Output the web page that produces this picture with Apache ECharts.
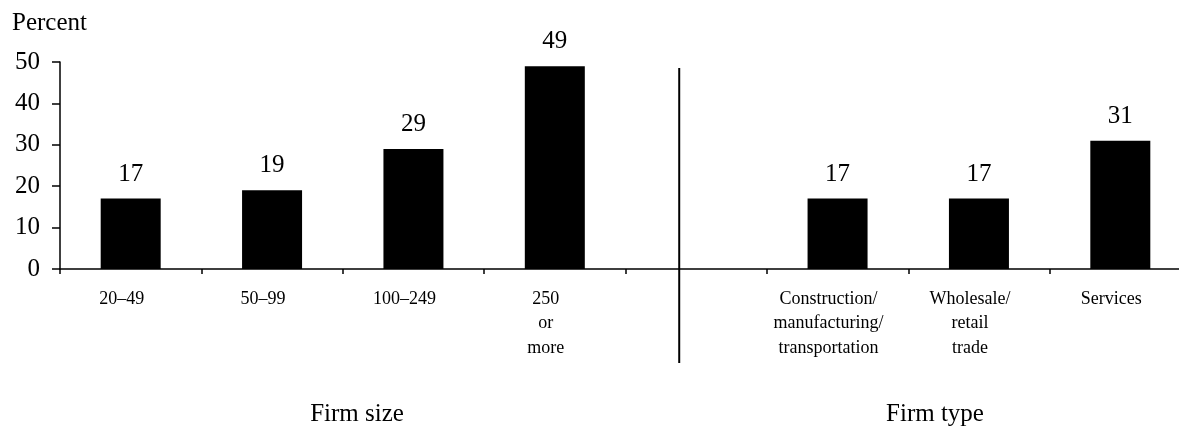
<!DOCTYPE html>
<html><head><meta charset="utf-8">
<script src="https://cdn.jsdelivr.net/npm/echarts@6/dist/echarts.min.js"></script>
<style>html,body{margin:0;padding:0;background:#fff}#c{width:1179px;height:429px}</style>
</head><body><div id="c"></div>
<script>
const categories = ['20–49', '50–99', '100–249', '250\nor\nmore', '',
  'Construction/\nmanufacturing/\ntransportation', 'Wholesale/\nretail\ntrade', 'Services'];
const values = [17, 19, 29, 49, null, 17, 17, 31];
const yTicks = [0, 10, 20, 30, 40, 50];
const yTitle = 'Percent';
const groupTitles = ['Firm size', 'Firm type'];
const dividerAt = 4.38; // divider position along the category span (0..8)

const FONT = '"Liberation Serif", "Times New Roman", serif';
const chart = echarts.init(document.getElementById('c'), null, {renderer: 'canvas'});
chart.setOption({
  backgroundColor: '#fff',
  animation: false,
  textStyle: {fontFamily: FONT, color: '#000'},
  grid: [
    {left: 60, top: 62, width: 1131, height: 207, containLabel: false, outerBoundsMode: 'none'},
    {left: 60, top: 68, width: 1131, height: 295, containLabel: false, outerBoundsMode: 'none'}
  ],
  xAxis: [
    {
      type: 'category', gridIndex: 0, data: categories, boundaryGap: true,
      axisLine: {lineStyle: {color: '#000', width: 1.5}},
      axisTick: {show: true, length: 5, inside: false, lineStyle: {color: '#000', width: 1.5}},
      axisLabel: {interval: 0, color: '#000', fontFamily: FONT, fontSize: 18, lineHeight: 24.5,
        margin: 18, padding: [0, 18, 0, 0], hideOverlap: false},
      splitLine: {show: false}
    },
    {type: 'value', gridIndex: 1, min: 0, max: categories.length, show: false}
  ],
  yAxis: [
    {
      type: 'value', gridIndex: 0, min: yTicks[0], max: yTicks[yTicks.length - 1], interval: 10,
      axisLine: {show: true, lineStyle: {color: '#000', width: 1.5}},
      axisTick: {show: true, length: 8, lineStyle: {color: '#000', width: 1.5}},
      axisLabel: {color: '#000', fontFamily: FONT, fontSize: 25, margin: 20},
      splitLine: {show: false}
    },
    {type: 'value', gridIndex: 1, min: 0, max: 1, show: false}
  ],
  series: [
    {
      type: 'bar', xAxisIndex: 0, yAxisIndex: 0, data: values, barWidth: 60,
      itemStyle: {color: '#000'},
      label: {show: true, position: 'top', distance: 12, color: '#000',
        fontFamily: FONT, fontSize: 25, formatter: '{c}'}
    },
    {
      type: 'line', xAxisIndex: 1, yAxisIndex: 1, data: [[dividerAt, 0], [dividerAt, 1]],
      symbol: 'none', silent: true, clip: false,
      lineStyle: {color: '#000', width: 2}
    }
  ],
  graphic: [
    {type: 'text', left: 12, top: 11, style: {text: yTitle, fontFamily: FONT, fontSize: 25, fill: '#000'}},
    {type: 'text', style: {x: 357, y: 414, text: groupTitles[0], textAlign: 'center', textVerticalAlign: 'middle',
      fontFamily: FONT, fontSize: 25, fill: '#000'}},
    {type: 'text', style: {x: 935, y: 414, text: groupTitles[1], textAlign: 'center', textVerticalAlign: 'middle',
      fontFamily: FONT, fontSize: 25, fill: '#000'}}
  ]
});
</script></body></html>
